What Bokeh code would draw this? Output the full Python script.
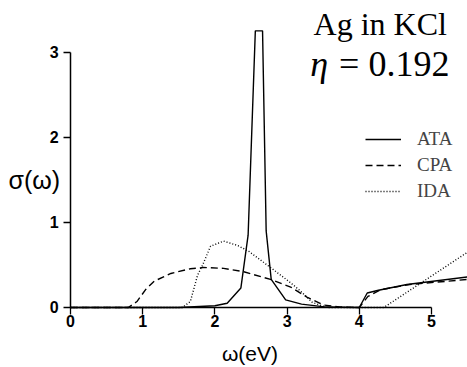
from bokeh.plotting import figure
from bokeh.models import Range1d, FixedTicker, Label, Legend, LegendItem
from bokeh.embed import file_html
from bokeh.resources import INLINE

# --- data ---
omega_ata = [0, 1.5, 2.0, 2.17, 2.36, 2.46, 2.56, 2.66, 2.71, 2.78, 2.98, 3.2, 3.55, 4.0, 4.11, 4.25, 4.66, 5.5]
sigma_ata = [0, 0, 0.02, 0.05, 0.23, 0.85, 3.25, 3.25, 0.9, 0.33, 0.09, 0.04, 0.005, 0, 0.17, 0.2, 0.27, 0.36]

omega_cpa = [0, 0.8, 0.92, 1.04, 1.16, 1.39, 1.66, 1.84, 2.12, 2.4, 2.77, 3.05, 3.28, 3.5, 3.75, 4.0, 4.12, 4.3, 4.7, 5.5]
sigma_cpa = [0, 0, 0.07, 0.21, 0.31, 0.40, 0.455, 0.47, 0.46, 0.42, 0.33, 0.24, 0.12, 0.03, 0.005, 0, 0.13, 0.21, 0.27, 0.33]

omega_ida = [0, 1.55, 1.66, 1.76, 1.83, 1.94, 2.12, 2.31, 2.47, 2.77, 3.05, 3.19, 3.35, 3.55, 4.34, 5.5]
sigma_ida = [0, 0, 0.07, 0.38, 0.50, 0.72, 0.78, 0.73, 0.66, 0.47, 0.29, 0.19, 0.06, 0.0, 0, 0.65]

x_ticks = [0, 1, 2, 3, 4, 5]
y_ticks = [0, 1, 2, 3]

p = figure(width=467, height=367, output_backend="svg", toolbar_location=None,
           x_range=Range1d(-0.970, 5.499), y_range=Range1d(-0.705, 3.607),
           min_border_left=0, min_border_right=0, min_border_top=0, min_border_bottom=0)
p.outline_line_color = None
p.xgrid.visible = False
p.ygrid.visible = False
p.background_fill_color = "white"
p.border_fill_color = "white"

for ax, ticks in ((p.xaxis[0], x_ticks), (p.yaxis[0], y_ticks)):
    ax.ticker = FixedTicker(ticks=ticks)
    ax.bounds = (ticks[0], ticks[-1])
    ax.fixed_location = 0
    ax.axis_line_width = 1.5
    ax.axis_line_color = "black"
    ax.major_tick_line_color = "black"
    ax.major_tick_line_width = 1.3
    ax.major_tick_in = 0
    ax.major_tick_out = 7
    ax.minor_tick_line_color = None
    ax.major_label_text_font = "Liberation Sans"
    ax.major_label_text_font_style = "bold"
    ax.major_label_text_font_size = "16px"
    ax.major_label_text_color = "black"

p.xaxis.major_label_standoff = 1
p.yaxis.major_label_standoff = 5

r_ata = p.line(omega_ata, sigma_ata, line_color="black", line_width=1.4)
r_cpa = p.line(omega_cpa, sigma_cpa, line_color="black", line_width=1.4, line_dash="7 4")
r_ida = p.line(omega_ida, sigma_ida, line_color="black", line_width=1.4, line_dash="1 2")

legend = Legend(items=[LegendItem(label="ATA", renderers=[r_ata]),
                       LegendItem(label="CPA", renderers=[r_cpa]),
                       LegendItem(label="IDA", renderers=[r_ida])],
                location=(365, 165), padding=0, margin=0, spacing=4,
                glyph_width=36, glyph_height=20, label_height=20, label_standoff=16,
                label_text_font="Liberation Serif", label_text_font_size="19px",
                border_line_alpha=0, background_fill_alpha=0)
p.add_layout(legend, "center")

serif = "Liberation Serif"
p.add_layout(Label(x=3.366, y=3.33, text="Ag in KCl", text_font=serif,
                   text_font_size="32px", text_baseline="alphabetic", text_color="black"))
p.add_layout(Label(x=3.32, y=2.86, text="η", text_font=serif, text_font_style="italic",
                   text_font_size="36px", text_baseline="alphabetic", text_color="black"))
p.add_layout(Label(x=3.72, y=2.86, text="= 0.192", text_font=serif,
                   text_font_size="36px", text_baseline="alphabetic", text_color="black"))
p.add_layout(Label(x=-0.859, y=1.50, text="σ(ω)", text_font="Liberation Sans",
                   text_font_size="25px", text_baseline="middle", text_color="black"))
p.add_layout(Label(x=2.486, y=-0.54, text="ω(eV)", text_font="Liberation Sans",
                   text_font_size="21px", text_align="center", text_baseline="middle",
                   text_color="black"))

open("out.html", "w").write(file_html(p, INLINE))
